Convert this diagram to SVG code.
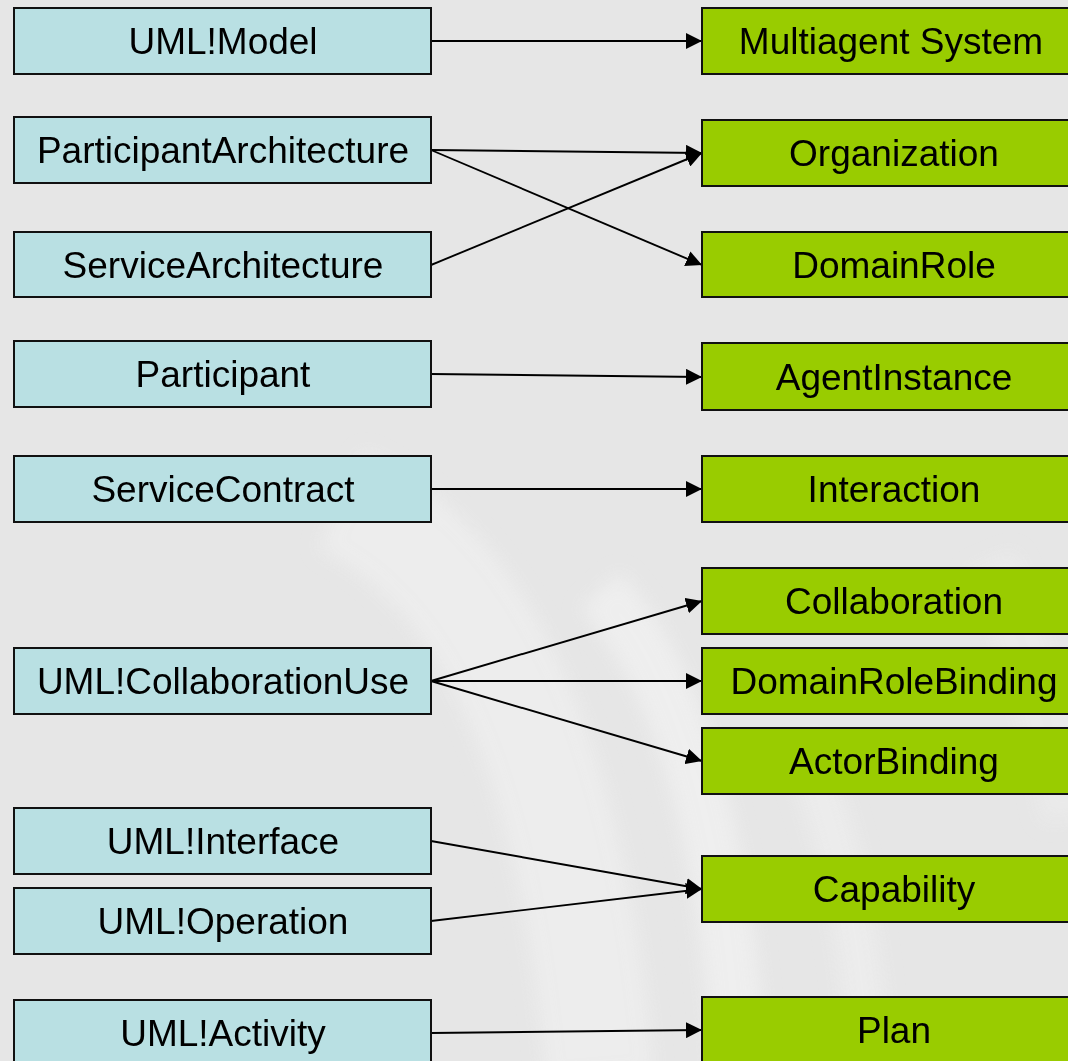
<svg xmlns="http://www.w3.org/2000/svg" width="1068" height="1061" viewBox="0 0 1068 1061">
  <style>
    .src rect { fill: #b9e0e3; stroke: #111; stroke-width: 2; }
    .dst rect { fill: #99cc00; stroke: #111; stroke-width: 2; }
    text { font-family: "Liberation Sans", Arial, sans-serif; font-size: 37px; fill: #000; text-anchor: middle; }
    #connectors line { stroke: #000; stroke-width: 1.9; marker-end: url(#arrow); }
    .sheen { fill: none; stroke: #f6f6f6; }
  </style>
  <defs>
    <marker id="arrow" viewBox="0 0 16 16" refX="16" refY="8" markerWidth="16" markerHeight="16" markerUnits="userSpaceOnUse" orient="auto">
      <path d="M0,0 L16,8 L0,16 Z" fill="#000"/>
    </marker>
    <filter id="soft" x="-20%" y="-20%" width="140%" height="140%">
      <feGaussianBlur stdDeviation="10"/>
    </filter>
  </defs>

  <!-- backdrop with soft light sweeps -->
  <rect x="0" y="0" width="1068" height="1061" fill="#e6e6e6"/>
  <g filter="url(#soft)" opacity="0.6">
    <path class="sheen" d="M340,500 Q560,600 600,1080" stroke-width="110" opacity="0.7"/>
    <path class="sheen" d="M600,590 Q720,720 740,1080" stroke-width="55" opacity="0.9"/>
    <path class="sheen" d="M800,740 Q860,880 870,1080" stroke-width="45" opacity="0.6"/>
    <path class="sheen" d="M990,560 Q1050,700 1068,820" stroke-width="55" opacity="0.5"/>
  </g>

  <!-- connectors -->
  <g id="connectors">
    <line x1="431" y1="41" x2="702" y2="41"/>
    <line x1="431" y1="150" x2="702" y2="153"/>
    <line x1="431" y1="150" x2="702" y2="265"/>
    <line x1="431" y1="265" x2="702" y2="153"/>
    <line x1="431" y1="374" x2="702" y2="377"/>
    <line x1="431" y1="489" x2="702" y2="489"/>
    <line x1="431" y1="681" x2="702" y2="601"/>
    <line x1="431" y1="681" x2="702" y2="681"/>
    <line x1="431" y1="681" x2="702" y2="761"/>
    <line x1="431" y1="841" x2="702" y2="889"/>
    <line x1="431" y1="921" x2="702" y2="889"/>
    <line x1="431" y1="1033" x2="702" y2="1030"/>
  </g>

  <!-- source elements -->
  <g id="uml-model" class="src"><rect x="14" y="8" width="417" height="66"/><text x="223" y="54">UML!Model</text></g>
  <g id="participant-architecture" class="src"><rect x="14" y="117" width="417" height="66"/><text x="223" y="163">ParticipantArchitecture</text></g>
  <g id="service-architecture" class="src"><rect x="14" y="232" width="417" height="65"/><text x="223" y="278">ServiceArchitecture</text></g>
  <g id="participant" class="src"><rect x="14" y="341" width="417" height="66"/><text x="223" y="387">Participant</text></g>
  <g id="service-contract" class="src"><rect x="14" y="456" width="417" height="66"/><text x="223" y="502">ServiceContract</text></g>
  <g id="uml-collaboration-use" class="src"><rect x="14" y="648" width="417" height="66"/><text x="223" y="694">UML!CollaborationUse</text></g>
  <g id="uml-interface" class="src"><rect x="14" y="808" width="417" height="66"/><text x="223" y="854">UML!Interface</text></g>
  <g id="uml-operation" class="src"><rect x="14" y="888" width="417" height="66"/><text x="223" y="934">UML!Operation</text></g>
  <g id="uml-activity" class="src"><rect x="14" y="1000" width="417" height="66"/><text x="223" y="1046">UML!Activity</text></g>

  <!-- target elements -->
  <g id="multiagent-system" class="dst"><rect x="702" y="8" width="384" height="66"/><text x="891" y="54">Multiagent System</text></g>
  <g id="organization" class="dst"><rect x="702" y="120" width="384" height="66"/><text x="894" y="166">Organization</text></g>
  <g id="domain-role" class="dst"><rect x="702" y="232" width="384" height="65"/><text x="894" y="278">DomainRole</text></g>
  <g id="agent-instance" class="dst"><rect x="702" y="343" width="384" height="67"/><text x="894" y="390">AgentInstance</text></g>
  <g id="interaction" class="dst"><rect x="702" y="456" width="384" height="66"/><text x="894" y="502">Interaction</text></g>
  <g id="collaboration" class="dst"><rect x="702" y="568" width="384" height="66"/><text x="894" y="614">Collaboration</text></g>
  <g id="domain-role-binding" class="dst"><rect x="702" y="648" width="384" height="66"/><text x="894" y="694">DomainRoleBinding</text></g>
  <g id="actor-binding" class="dst"><rect x="702" y="728" width="384" height="66"/><text x="894" y="774">ActorBinding</text></g>
  <g id="capability" class="dst"><rect x="702" y="856" width="384" height="66"/><text x="894" y="902">Capability</text></g>
  <g id="plan" class="dst"><rect x="702" y="997" width="384" height="66"/><text x="894" y="1043">Plan</text></g>
</svg>
